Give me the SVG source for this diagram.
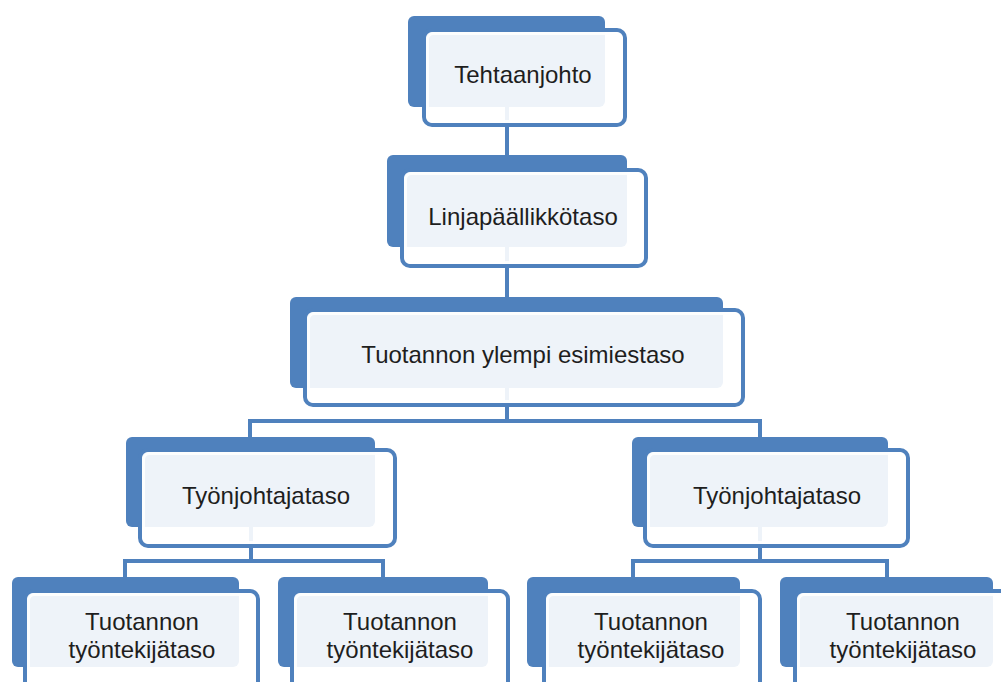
<svg xmlns="http://www.w3.org/2000/svg" width="1001" height="682" viewBox="0 0 1001 682">
<style>
.back{fill:#4F81BD;}
.front{fill:#ffffff;fill-opacity:0.9;stroke:#4F81BD;stroke-width:4;}
.glow{fill:none;stroke:#ffffff;stroke-width:3;stroke-opacity:0.85;}
.conn{fill:none;stroke:#4F81BD;stroke-width:4;stroke-linejoin:miter;}
text{font-family:"Liberation Sans",Arial,sans-serif;font-size:24px;fill:#1e1e1e;text-anchor:middle;}
</style>
<rect width="1001" height="682" fill="#ffffff"/>
<g id="connectors">
<path class="conn" d="M507,107 V156"/>
<path class="conn" d="M507,247 V298"/>
<path class="conn" d="M507,388 V421 M250,438 V421 H760 V438"/>
<path class="conn" d="M251,527 V561 M125,578 V561 H383 V578"/>
<path class="conn" d="M760,527 V561 M633,578 V561 H887 V578"/>
</g>
<g id="n1">
<rect class="back" x="408" y="16" width="197" height="91" rx="6"/>
<rect class="front" x="424" y="30" width="201" height="95" rx="8"/>
<rect class="glow" x="427.5" y="33.5" width="194" height="88" rx="6"/>
<text x="523" y="83">Tehtaanjohto</text>
</g>
<g id="n2">
<rect class="back" x="387" y="155" width="240" height="92" rx="6"/>
<rect class="front" x="402" y="170" width="244" height="96" rx="8"/>
<rect class="glow" x="405.5" y="173.5" width="237" height="89" rx="6"/>
<text x="523" y="225">Linjapäällikkötaso</text>
</g>
<g id="n3">
<rect class="back" x="290" y="297" width="433" height="91" rx="6"/>
<rect class="front" x="305" y="310" width="438" height="95" rx="8"/>
<rect class="glow" x="308.5" y="313.5" width="431" height="88" rx="6"/>
<text x="523" y="363">Tuotannon ylempi esimiestaso</text>
</g>
<g id="n4">
<rect class="back" x="126" y="437" width="249" height="90" rx="6"/>
<rect class="front" x="140" y="450" width="255" height="96" rx="8"/>
<rect class="glow" x="143.5" y="453.5" width="248" height="89" rx="6"/>
<text x="266" y="504">Työnjohtajataso</text>
</g>
<g id="n5">
<rect class="back" x="632" y="437" width="256" height="90" rx="6"/>
<rect class="front" x="645" y="450" width="263" height="96" rx="8"/>
<rect class="glow" x="648.5" y="453.5" width="256" height="89" rx="6"/>
<text x="777" y="504">Työnjohtajataso</text>
</g>
<g id="b1">
<rect class="back" x="12" y="577" width="227" height="90" rx="6"/>
<rect class="front" x="25" y="591" width="233" height="100" rx="8"/>
<rect class="glow" x="28.5" y="594.5" width="226" height="93" rx="6"/>
<text x="142" y="630">Tuotannon</text>
<text x="142" y="658">työntekijätaso</text>
</g>
<g id="b2">
<rect class="back" x="278" y="577" width="210" height="90" rx="6"/>
<rect class="front" x="292" y="591" width="216" height="100" rx="8"/>
<rect class="glow" x="295.5" y="594.5" width="209" height="93" rx="6"/>
<text x="400" y="630">Tuotannon</text>
<text x="400" y="658">työntekijätaso</text>
</g>
<g id="b3">
<rect class="back" x="527" y="577" width="213" height="90" rx="6"/>
<rect class="front" x="544" y="591" width="216" height="100" rx="8"/>
<rect class="glow" x="547.5" y="594.5" width="209" height="93" rx="6"/>
<text x="651" y="630">Tuotannon</text>
<text x="651" y="658">työntekijätaso</text>
</g>
<g id="b4">
<rect class="back" x="780" y="577" width="213" height="90" rx="6"/>
<rect class="front" x="795" y="591" width="220" height="100" rx="8"/>
<rect class="glow" x="798.5" y="594.5" width="213" height="93" rx="6"/>
<text x="903" y="630">Tuotannon</text>
<text x="903" y="658">työntekijätaso</text>
</g>
</svg>
